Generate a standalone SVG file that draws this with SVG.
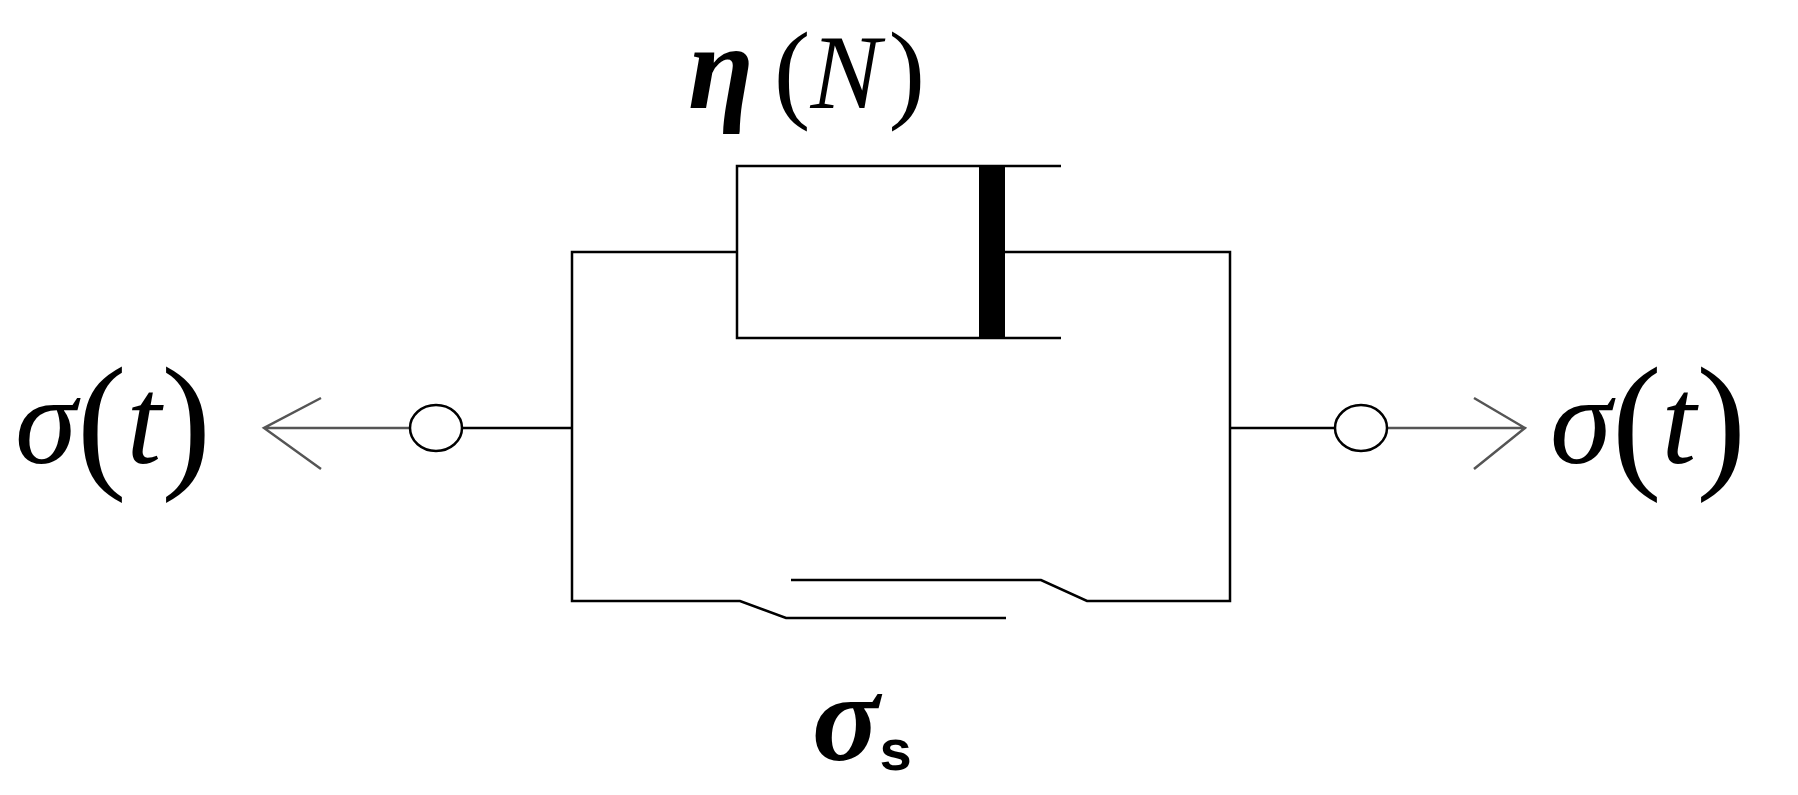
<svg xmlns="http://www.w3.org/2000/svg" width="1798" height="795" viewBox="0 0 1798 795">
<style>
.l{stroke:#000;stroke-width:2.5;fill:none}
.t{font-family:"Liberation Serif",serif;font-style:italic;fill:#000}
.p{font-style:normal;font-family:"Liberation Serif",serif}
</style>
<rect width="1798" height="795" fill="#fff"/>
<g id="connectors">
<path class="l" d="M1061,166 H737 V338 H1061"/>
<path class="l" d="M737,252 H572 V601 H740 L786,618 H1006"/>
<path class="l" d="M992,252 H1230 V601 H1087 L1041,580 H791"/>
<path class="l" d="M572,428 H461"/>
<path class="l" d="M410,428 H264 M321,398 L264,428 L321,469" style="stroke:#555"/>
<path class="l" d="M1230,428 H1335"/>
<path class="l" d="M1387,428 H1525 M1474,398 L1525,428 L1474,469" style="stroke:#555"/>
</g>
<g id="dashpot"><rect x="979" y="166" width="26" height="172" fill="#000"/></g>
<g id="leftNode"><ellipse cx="436" cy="428" rx="26" ry="23" class="l"/></g>
<g id="rightNode"><ellipse cx="1361" cy="428" rx="26" ry="23" class="l"/></g>
<text class="t" x="688" y="108" font-size="120" font-weight="bold">η<tspan class="p" font-weight="normal" font-size="110" dx="20">(</tspan><tspan font-weight="normal" font-size="105">N</tspan><tspan class="p" font-weight="normal" font-size="110" dx="8">)</tspan></text>
<text class="t" x="15" y="463" font-size="125">σ<tspan class="p" font-size="150" dy="8">(</tspan><tspan font-size="125" dy="-8">t</tspan><tspan class="p" font-size="150" dy="8">)</tspan></text>
<text class="t" x="1550" y="463" font-size="125">σ<tspan class="p" font-size="150" dy="8">(</tspan><tspan font-size="125" dy="-8">t</tspan><tspan class="p" font-size="150" dy="8">)</tspan></text>
<text class="t" x="812" y="760" font-size="125" font-weight="bold">σ<tspan font-style="normal" font-family="Liberation Sans,sans-serif" font-size="58" dy="10">s</tspan></text>
</svg>
